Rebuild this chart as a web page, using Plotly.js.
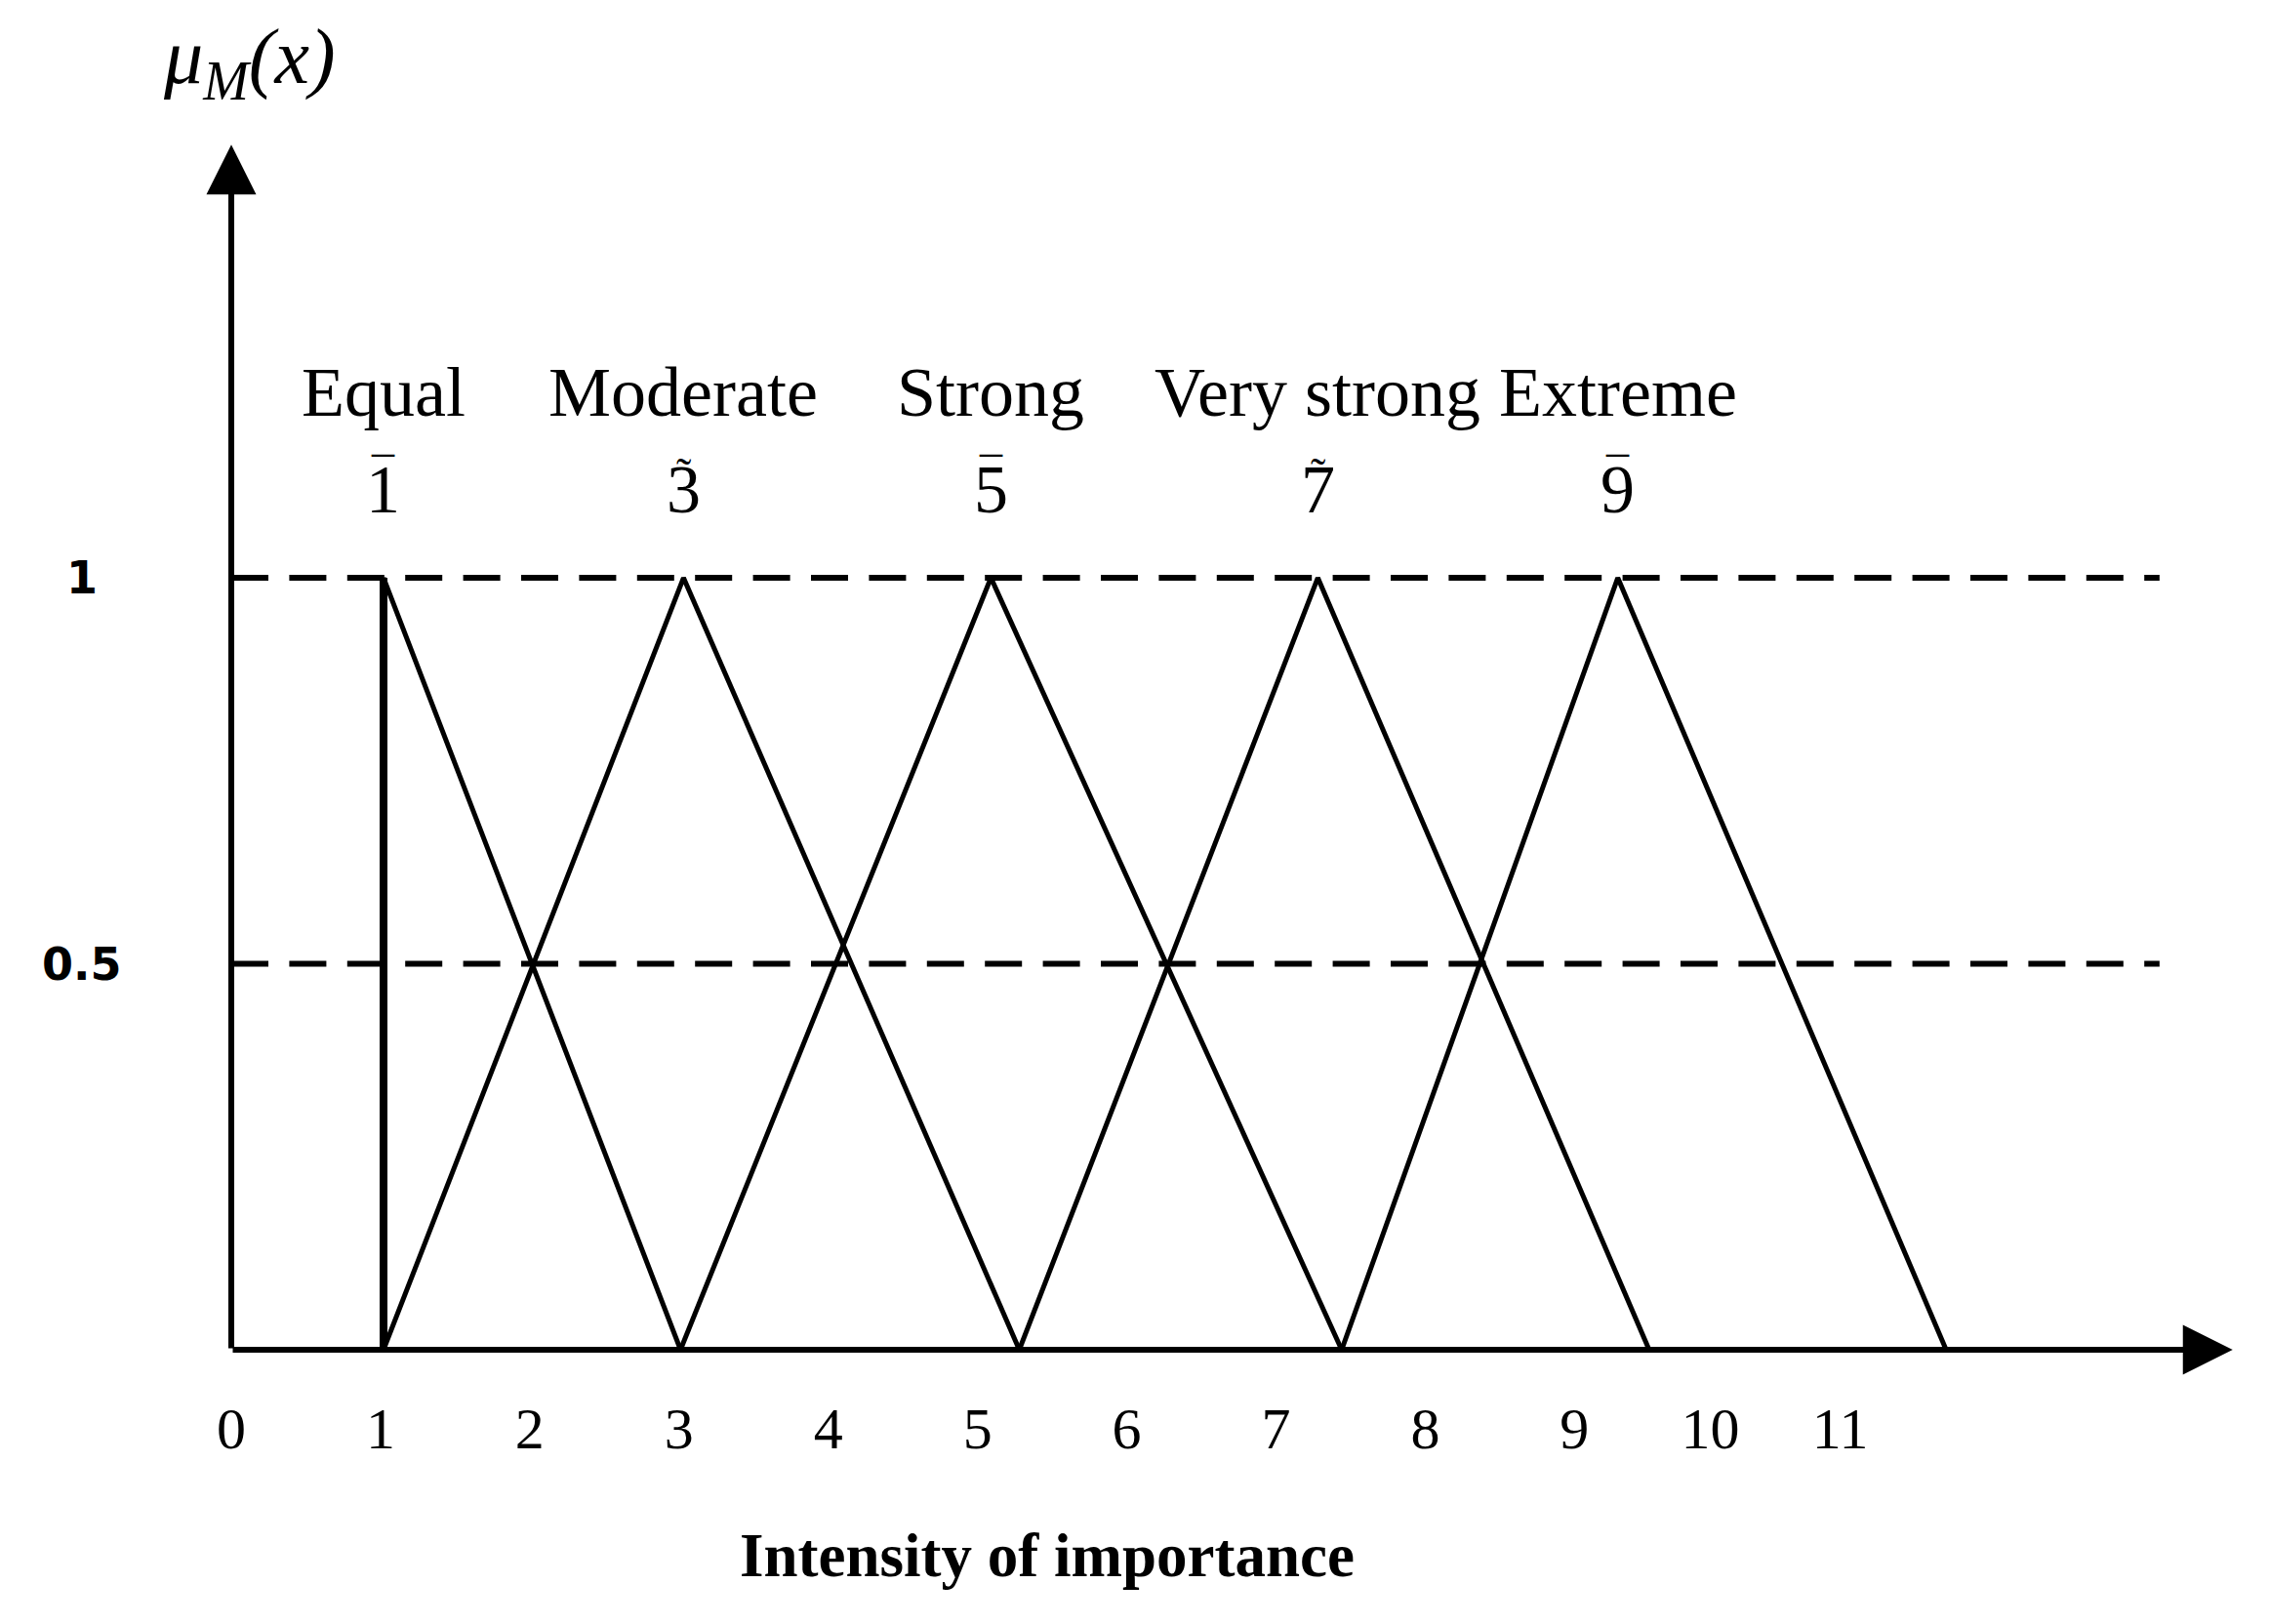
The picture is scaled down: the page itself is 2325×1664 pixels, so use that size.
<!DOCTYPE html>
<html>
<head>
<meta charset="utf-8">
<script src="https://cdn.plot.ly/plotly-3.0.1.min.js"></script>
<style>
  html, body { margin: 0; padding: 0; background: #fff; }
  #chart { width: 2325px; height: 1664px; }
</style>
</head>
<body>
<div id="chart"></div>
<script>
// linguistic terms and their triangular fuzzy numbers (l, m, u)
const categories = ["Equal", "Moderate", "Strong", "Very strong", "Extreme"];
const fuzzyDigits = ["1", "3", "5", "7", "9"];
const fuzzyMarks = ["\u00af", "\u02dc", "\u00af", "\u02dc", "\u00af"];
const lowerX = [1.02, 1.02, 3.01, 5.28, 7.44];
const peakX = [1.02, 3.03, 5.09, 7.28, 9.29];
const upperX = [3.01, 5.28, 7.44, 9.50, 11.49];
const membership = [0, 1, 0];

// dashed reference levels
const dashLevels = [0.5, 1];
const dashLabels = ["0.5", "1"];
const dashEndX = 12.92;

// x tick labels (the drawing squeezes 10 and 11)
const xTickVals = [0, 1, 2, 3, 4, 5, 6, 7, 8, 9, 9.91, 10.78];
const xTickText = ["0", "1", "2", "3", "4", "5", "6", "7", "8", "9", "10", "11"];

// axis arrow tips
const xArrowTip = 13.41;
const yArrowTip = 1.561;

const SERIF = "Liberation Serif, Times New Roman, serif";
const SANS = "DejaVu Sans, sans-serif";

const traces = [];

dashLevels.forEach(lv => {
    traces.push({
        x: [0, dashEndX], y: [lv, lv],
        type: "scatter", mode: "lines",
        line: { color: "#000", width: 6, dash: "38px,21.4px" },
        hoverinfo: "skip"
    });
});

categories.forEach((c, i) => {
    traces.push({
        name: c,
        x: [lowerX[i], peakX[i], upperX[i]], y: membership,
        type: "scatter", mode: "lines",
        line: { color: "#000", width: 5 }
    });
});

// the crisp edge of "Equal" is drawn heavier
traces.push({
    x: [lowerX[0], peakX[0]], y: membership.slice(0, 2),
    type: "scatter", mode: "lines",
    line: { color: "#000", width: 8 }
});

const annotations = [];

// axes with arrow heads
annotations.push({
    x: xArrowTip, y: 0, ax: 0, ay: 0, xref: "x", yref: "y", axref: "x", ayref: "y",
    text: "", showarrow: true, arrowhead: 2, arrowwidth: 6, arrowsize: 1.7,
    arrowcolor: "#000", font: { size: 1 }
});
annotations.push({
    x: 0, y: yArrowTip, ax: 0, ay: 0, xref: "x", yref: "y", axref: "x", ayref: "y",
    text: "", showarrow: true, arrowhead: 2, arrowwidth: 6, arrowsize: 1.7,
    arrowcolor: "#000", font: { size: 1 }
});

categories.forEach((c, i) => {
    annotations.push({
        x: peakX[i], y: 1.24, xref: "x", yref: "y",
        text: c, showarrow: false, xanchor: "center", yanchor: "middle",
        font: { family: SERIF, size: 72, color: "#000" }
    });
    annotations.push({
        x: peakX[i], y: 1.115, xref: "x", yref: "y",
        text: fuzzyDigits[i], showarrow: false, xanchor: "center", yanchor: "middle",
        font: { family: SERIF, size: 70, color: "#000" }
    });
    annotations.push({
        x: peakX[i], y: 1.115, xref: "x", yref: "y", yshift: 16,
        text: fuzzyMarks[i], showarrow: false, xanchor: "center", yanchor: "middle",
        font: { family: SERIF, size: 46, color: "#000" }
    });
});

dashLevels.forEach((lv, i) => {
    annotations.push({
        x: 0, y: lv, xref: "paper", yref: "y", xshift: -153,
        text: dashLabels[i], showarrow: false, xanchor: "center", yanchor: "middle",
        font: { family: SANS, size: 46, color: "#000", weight: "bold" }
    });
});

// membership function symbol
annotations.push({
    x: 0, y: 1, xref: "paper", yref: "paper", xshift: -72, yshift: 76,
    text: "<i>\u03bc<sub>M</sub>(x)</i>", showarrow: false,
    xanchor: "left", yanchor: "middle",
    font: { family: SERIF, size: 80, color: "#000" }
});

// x axis caption
annotations.push({
    x: 0.405, y: 0, xref: "paper", yref: "paper", yshift: -211,
    text: "<b>Intensity of importance</b>", showarrow: false,
    xanchor: "center", yanchor: "middle",
    font: { family: SERIF, size: 63, color: "#000" }
});

const layout = {
    width: 2325, height: 1664,
    margin: { l: 237, r: 25, t: 140, b: 281, pad: 0 },
    paper_bgcolor: "#fff", plot_bgcolor: "#fff",
    showlegend: false,
    xaxis: {
        range: [0, 13.49], showgrid: false, zeroline: false, showline: false,
        tickmode: "array", tickvals: xTickVals, ticktext: xTickText,
        ticks: "", ticklabelstandoff: 40,
        tickfont: { family: SERIF, size: 60, color: "#000" }
    },
    yaxis: {
        range: [0, 1.5715], showgrid: false, zeroline: false, showline: false,
        showticklabels: false, ticks: ""
    },
    annotations: annotations
};

Plotly.newPlot("chart", traces, layout, { displayModeBar: false, staticPlot: true });
</script>
</body>
</html>
